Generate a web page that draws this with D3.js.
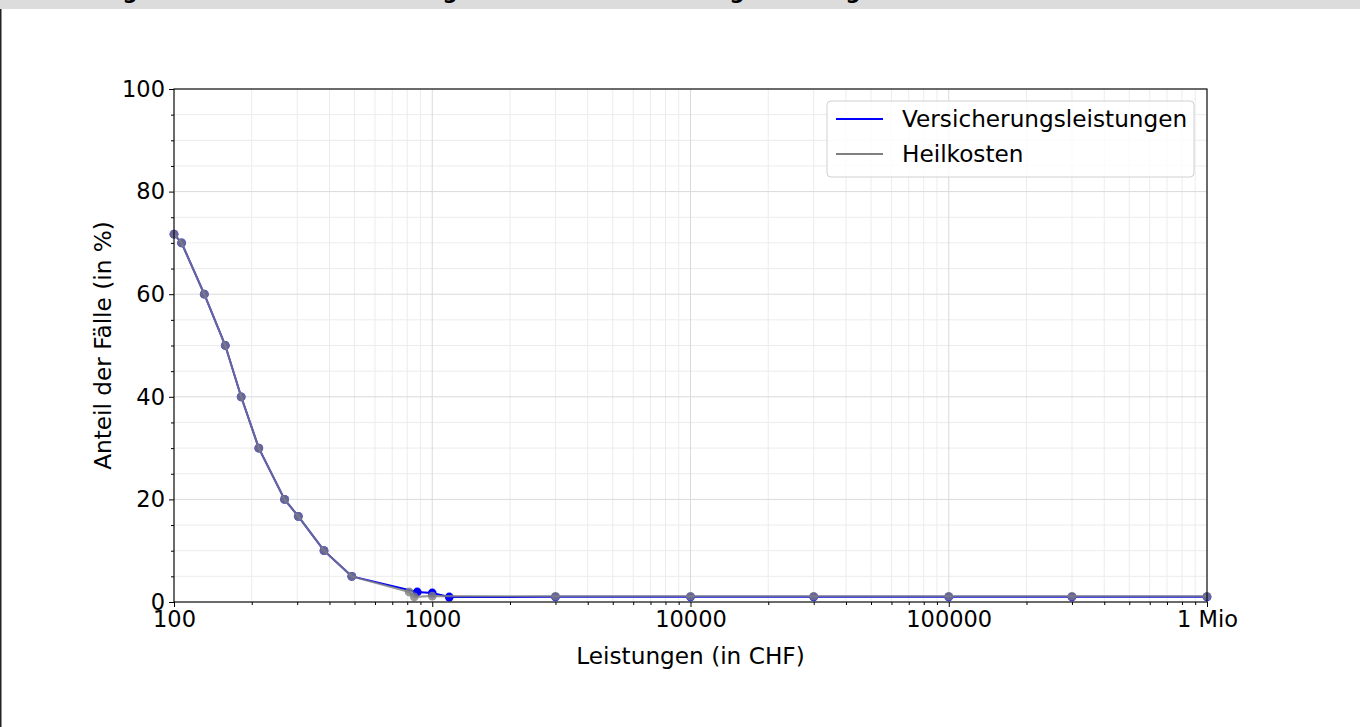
<!DOCTYPE html>
<html>
<head>
<meta charset="utf-8">
<script src="https://cdn.jsdelivr.net/npm/d3@7"></script>
<style>
    body { margin: 0; background: #ffffff; }
    svg { display: block; }
</style>
</head>
<body>
<svg id="chart" width="1360" height="727"></svg>
<script>
// values
const leistungenCHF = [100, 107, 131, 158, 182, 213, 268, 303, 381, 488];
const anteilStart = [71.7, 70, 60, 50, 40, 30, 20, 16.7, 10, 5];
const versicherungX = [875, 1000, 1164, 3000, 10000, 30000, 100000, 300000, 1000000];
const versicherungY = [1.95, 1.75, 0.97, 1.0, 1.0, 1.0, 1.0, 1.0, 1.0];
const heilkostenX = [814, 852, 1000, 3000, 10000, 30000, 100000, 300000, 1000000];
const heilkostenY = [1.95, 1.0, 1.15, 1.1, 1.1, 1.1, 1.1, 1.1, 1.1];
const xTicks = [100, 1000, 10000, 100000, 1000000];
const yTicks = [0, 20, 40, 60, 80, 100];
const seriesNames = ["Versicherungsleistungen", "Heilkosten"];
const titleParts = ["Abbildung", " 3: Anteil Fälle mit Leistung", " und nach Versicherung", "sleistung"];

const font = "DejaVu Sans";
const margin = {left: 174, top: 89, right: 153, bottom: 125};
const width = 1360 - margin.left - margin.right;
const height = 727 - margin.top - margin.bottom;

let svg = d3.select("#chart");

// cut-off header strip of the page
svg.append("rect").attr("x", 0).attr("y", 0).attr("width", 1360).attr("height", 9).attr("fill", "#dcdcdc");
svg.append("rect").attr("x", 0).attr("y", 9).attr("width", 1.5).attr("height", 718).attr("fill", "#222");

// only the descenders of the bold title are visible; line the g's up with the reference
const titleAnchors = [130, 450, 737, 853];
let title = svg.append("text")
    .attr("y", -1.4)
    .style("font", `bold 21px "${font}"`)
    .attr("fill", "#000");
let probe = svg.append("text").style("font", `bold 21px "${font}"`).text("g");
const gWidth = probe.node().getComputedTextLength();
probe.remove();
let spans = titleParts.map(part => title.append("tspan").text(part));
spans.forEach((s, i) => {
    let w = s.node().getComputedTextLength();
    if (i === 0) {
        title.attr("x", titleAnchors[0] - w + gWidth / 2);
    } else {
        s.attr("dx", (titleAnchors[i] - titleAnchors[i - 1]) - w);
    }
});

let x = d3.scaleLog().domain([100, 1000000]).range([0, width]);
let y = d3.scaleLinear().domain([0, 100]).range([height, 0]);

let g = svg.append("g").attr("transform", `translate(${margin.left},${margin.top})`);

// grid
let xMinor = x.ticks().filter(v => !xTicks.includes(v));
let yMinor = d3.range(0, 101, 5).filter(v => !yTicks.includes(v));
g.selectAll(".xminor").data(xMinor).enter().append("line")
    .attr("x1", d => x(d)).attr("x2", d => x(d)).attr("y1", 0).attr("y2", height)
    .attr("stroke", "#ececec").attr("stroke-width", 1);
g.selectAll(".yminor").data(yMinor).enter().append("line")
    .attr("y1", d => y(d)).attr("y2", d => y(d)).attr("x1", 0).attr("x2", width)
    .attr("stroke", "#ececec").attr("stroke-width", 1);
g.selectAll(".xmajor").data(xTicks).enter().append("line")
    .attr("x1", d => x(d)).attr("x2", d => x(d)).attr("y1", 0).attr("y2", height)
    .attr("stroke", "#dadada").attr("stroke-width", 1);
g.selectAll(".ymajor").data(yTicks).enter().append("line")
    .attr("y1", d => y(d)).attr("y2", d => y(d)).attr("x1", 0).attr("x2", width)
    .attr("stroke", "#dadada").attr("stroke-width", 1);

// series
let blueData = leistungenCHF.map((v, i) => ({x: v, y: anteilStart[i]}))
    .concat(versicherungX.map((v, i) => ({x: v, y: versicherungY[i]})));
let grayData = leistungenCHF.map((v, i) => ({x: v, y: anteilStart[i]}))
    .concat(heilkostenX.map((v, i) => ({x: v, y: heilkostenY[i]})));

let line = d3.line().x(d => x(d.x)).y(d => y(d.y));

function drawSeries(data, color, alpha) {
    g.append("path").datum(data)
        .attr("d", line)
        .attr("fill", "none")
        .attr("stroke", color)
        .attr("stroke-opacity", alpha)
        .attr("stroke-width", 2);
    g.selectAll(null).data(data).enter().append("circle")
        .attr("cx", d => x(d.x))
        .attr("cy", d => y(d.y))
        .attr("r", 4.4)
        .attr("fill", color)
        .attr("fill-opacity", alpha);
}
drawSeries(blueData, "#0000ff", 1);
drawSeries(grayData, "#808080", 0.8);

// axes
g.append("g").attr("transform", `translate(0,${height})`)
    .call(d3.axisBottom(x).tickValues(xTicks).tickSize(5).tickPadding(4)
        .tickFormat(v => v === 1000000 ? "1 Mio" : d3.format("d")(v)));
g.append("g").attr("transform", `translate(0,${height})`)
    .call(d3.axisBottom(x).tickValues(xMinor).tickSize(3).tickFormat(""));
g.append("g")
    .call(d3.axisLeft(y).tickValues(yTicks).tickSize(5).tickPadding(4));
g.append("g")
    .call(d3.axisLeft(y).tickValues(yMinor).tickSize(3).tickFormat(""));

g.selectAll(".domain").remove();
g.selectAll(".tick line").attr("stroke", "#000").attr("stroke-width", 1);
g.selectAll(".tick text").style("font", `22.5px "${font}"`).attr("fill", "#000");

g.append("rect").attr("width", width).attr("height", height)
    .attr("fill", "none").attr("stroke", "#000").attr("stroke-width", 1.1);

// labels
g.append("text")
    .attr("x", width / 2).attr("y", height + 62)
    .attr("text-anchor", "middle")
    .style("font", `23.2px "${font}"`)
    .text("Leistungen (in CHF)");
g.append("text")
    .attr("transform", `translate(-63,${height / 2}) rotate(-90)`)
    .attr("text-anchor", "middle")
    .style("font", `23.2px "${font}"`)
    .text("Anteil der Fälle (in %)");

// legend
let legend = g.append("g").attr("transform", `translate(${width - 380},12)`);
legend.append("rect")
    .attr("x", 0).attr("y", 0).attr("width", 367).attr("height", 76).attr("rx", 4)
    .attr("fill", "#fff").attr("fill-opacity", 0.8)
    .attr("stroke", "#d0d0d0").attr("stroke-width", 1);
let legendColors = ["#0000ff", "#808080"];
seriesNames.forEach((name, i) => {
    let ly = 18 + i * 35;
    legend.append("line")
        .attr("x1", 9).attr("x2", 56).attr("y1", ly).attr("y2", ly)
        .attr("stroke", legendColors[i]).attr("stroke-width", 2);
    legend.append("text")
        .attr("x", 75).attr("y", ly + 8)
        .style("font", `23.2px "${font}"`)
        .text(name);
});
</script>
</body>
</html>
